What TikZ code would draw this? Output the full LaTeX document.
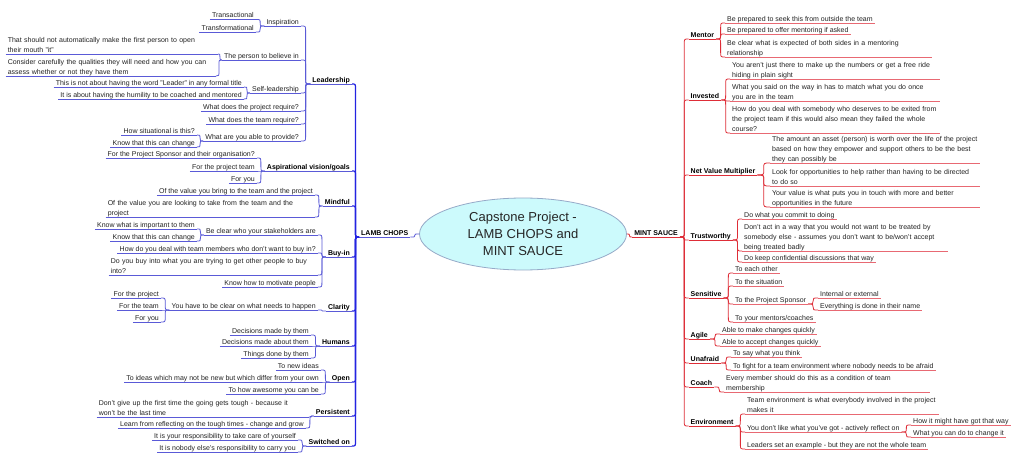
\documentclass[tikz,border=0pt]{standalone}
\usepackage{fontspec}
\setmainfont{Liberation Sans}
\usetikzlibrary{calc,shapes.geometric}
\definecolor{lcol}{RGB}{90,90,215}
\definecolor{ltrunk}{RGB}{35,35,225}
\definecolor{rcol}{RGB}{222,45,55}
\definecolor{rul}{RGB}{232,105,115}
\definecolor{txtc}{RGB}{35,35,35}
\definecolor{ellfill}{RGB}{204,250,252}
\definecolor{elldraw}{RGB}{150,170,200}
\newcommand\mystrut{\rule[-1.5pt]{0pt}{7.4pt}}
\tikzset{
  br/.style={to path={let \p1=(\tikztostart), \p2=(\tikztotarget),
      \p3=($(\tikztostart)!0.5!(\tikztotarget)$),
      \n2={(\y2>\y1?1:-1)*min(5,abs(\y2-\y1)/2)} in
      (\p1) .. controls (\x3,\y1) .. (\x3,\y1+\n2) -- (\x3,\y2-\n2) .. controls (\x3,\y2) .. (\p2)}},
  txt/.style={font=\fontsize{7}{10}\selectfont, text=txtc, inner xsep=2pt, inner ysep=0pt,
      execute at begin node=\mystrut, execute at end node=\mystrut},
  lnode/.style={txt, anchor=south east,
      append after command={(\tikzlastnode.south west) edge[lcol,line width=0.8pt] (\tikzlastnode.south east)}},
  lmain/.style={lnode, font=\fontsize{7}{10}\selectfont\bfseries, text=black},
  rnode/.style={txt, anchor=south west,
      append after command={(\tikzlastnode.south west) edge[rul,line width=0.8pt] (\tikzlastnode.south east)}},
  rmain/.style={txt, anchor=south west, font=\fontsize{7}{10}\selectfont\bfseries, text=black,
      append after command={(\tikzlastnode.south west) edge[rcol,line width=0.8pt] (\tikzlastnode.south east)}},
  lc/.style={lcol, line width=0.8pt},
  lt/.style={ltrunk, line width=1.2pt},
  rc/.style={rcol, line width=0.8pt},
  ml/.style={text width=#1, align=left},
}
\begin{document}
\begin{tikzpicture}[x=1pt,y=-1pt]
\fill[white] (0,0) rectangle (1024,470);
\useasboundingbox (0,0) rectangle (1024,470);

% centre
\node[ellipse, draw=elldraw, fill=ellfill, line width=0.8pt, minimum width=207pt, minimum height=72pt,
  inner sep=0pt, align=center, font=\fontsize{13}{17}\selectfont, text=black!85] (c) at (523,234)
  {Capstone Project -\\LAMB CHOPS and\\MINT SAUCE};
\node[lmain, anchor=south west] (lamb) at (359,237) {LAMB CHOPS};
\node[rmain, anchor=south east] (mint) at (680,237) {MINT SAUCE};

% ---------- left side ----------
\node[lmain] (lead) at (352,84) {Leadership};
\node[lnode] (insp) at (301,26) {Inspiration};
\node[lnode] (tact) at (256,19.5) {Transactional};
\node[lnode] (tform) at (256,32) {Transformational};
\node[lnode] (pbel) at (301,60) {The person to believe in};
\node[lnode, ml=208pt] (pb1) at (218,54) {That should not automatically make the first person to open\\their mouth "it"};
\node[lnode, ml=206pt] (pb2) at (216,76) {Consider carefully the qualities they will need and how you can\\assess whether or not they have them};
\node[lnode] (self) at (301,93) {Self-leadership};
\node[lnode] (sl1) at (244,87) {This is not about having the word "Leader" in any formal title};
\node[lnode] (sl2) at (244,99) {It is about having the humility to be coached and mentored};
\node[lnode] (wproj) at (301,111) {What does the project require?};
\node[lnode] (wteam) at (301,124) {What does the team require?};
\node[lnode] (wprov) at (301,141) {What are you able to provide?};
\node[lnode] (wp1) at (197,135) {How situational is this?};
\node[lnode] (wp2) at (197,147) {Know that this can change};

\node[lmain] (asp) at (352,171) {Aspirational vision/goals};
\node[lnode] (as1) at (257,158) {For the Project Sponsor and their organisation?};
\node[lnode] (as2) at (257,171) {For the project team};
\node[lnode] (as3) at (257,183) {For you};

\node[lmain] (mind) at (352,206) {Mindful};
\node[lnode] (mi1) at (315,195) {Of the value you bring to the team and the project};
\node[lnode, ml=205pt] (mi2) at (315,217) {Of the value you are looking to take from the team and the\\project};

\node[lmain] (buy) at (352,257) {Buy-in};
\node[lnode] (bc) at (318,235) {Be clear who your stakeholders are};
\node[lnode] (bc1) at (197,229) {Know what is important to them};
\node[lnode] (bc2) at (197,241) {Know that this can change};
\node[lnode] (bu2) at (318,253) {How do you deal with team members who don't want to buy in?};
\node[lnode, ml=205pt] (bu3) at (318,275) {Do you buy into what you are trying to get other people to buy\\into?};
\node[lnode] (bu4) at (318,287) {Know how to motivate people};

\node[lmain] (clar) at (352,311) {Clarity};
\node[lnode] (cl) at (318,310) {You have to be clear on what needs to happen};
\node[lnode] (cl1) at (161,298) {For the project};
\node[lnode] (cl2) at (161,310) {For the team};
\node[lnode] (cl3) at (161,322) {For you};

\node[lmain] (hum) at (352,346) {Humans};
\node[lnode] (hu1) at (311,335) {Decisions made by them};
\node[lnode] (hu2) at (311,346) {Decisions made about them};
\node[lnode] (hu3) at (311,358) {Things done by them};

\node[lmain] (open) at (352,382) {Open};
\node[lnode] (op1) at (321,370) {To new ideas};
\node[lnode] (op2) at (321,382) {To ideas which may not be new but which differ from your own};
\node[lnode] (op3) at (321,394) {To how awesome you can be};

\node[lmain] (pers) at (352,416) {Persistent};
\node[lnode, ml=208pt] (pe1) at (309,417) {Don't give up the first time the going gets tough - because it\\won't be the last time};
\node[lnode] (pe2) at (306,428) {Learn from reflecting on the tough times - change and grow};

\node[lmain] (sw) at (352,446) {Switched on};
\node[lnode] (sw1) at (298,440) {It is your responsibility to take care of yourself};
\node[lnode] (sw2) at (298,452) {It is nobody else's responsibility to carry you};

% ---------- right side ----------
\node[rmain] (ment) at (688.5,39) {Mentor};
\node[rnode] (me1) at (725,23) {Be prepared to seek this from outside the team};
\node[rnode] (me2) at (725,34) {Be prepared to offer mentoring if asked};
\node[rnode, ml=203pt] (me3) at (725,57) {Be clear what is expected of both sides in a mentoring\\relationship};

\node[rmain] (inv) at (688.5,100) {Invested};
\node[rnode, ml=206pt] (in1) at (730,79) {You aren't just there to make up the numbers or get a free ride\\hiding in plain sight};
\node[rnode, ml=206pt] (in2) at (730,101) {What you said on the way in has to match what you do once\\you are in the team};
\node[rnode, ml=206pt] (in3) at (730,133) {How do you deal with somebody who deserves to be exited from\\the project team if this would also mean they failed the whole\\course?};

\node[rmain] (nvm) at (688.5,175) {Net Value Multiplier};
\node[rnode, ml=206pt] (nv1) at (770,163) {The amount an asset (person) is worth over the life of the project\\based on how they empower and support others to be the best\\they can possibly be};
\node[rnode, ml=206pt] (nv2) at (770,186) {Look for opportunities to help rather than having to be directed\\to do so};
\node[rnode, ml=206pt] (nv3) at (770,207) {Your value is what puts you in touch with more and better\\opportunities in the future};

\node[rmain] (trus) at (688.5,240) {Trustworthy};
\node[rnode] (tr1) at (742,219) {Do what you commit to doing};
\node[rnode, ml=202pt] (tr2) at (742,251) {Don't act in a way that you would not want to be treated by\\somebody else - assumes you don't want to be/won't accept\\being treated badly};
\node[rnode] (tr3) at (742,262) {Do keep confidential discussions that way};

\node[rmain] (sens) at (688.5,298) {Sensitive};
\node[rnode] (se1) at (733,273) {To each other};
\node[rnode] (se2) at (733,286) {To the situation};
\node[rnode] (se3) at (733,304) {To the Project Sponsor};
\node[rnode] (se3a) at (818,298) {Internal or external};
\node[rnode] (se3b) at (818,310) {Everything is done in their name};
\node[rnode] (se4) at (733,322) {To your mentors/coaches};

\node[rmain] (agil) at (688.5,339) {Agile};
\node[rnode] (ag1) at (720,334) {Able to make changes quickly};
\node[rnode] (ag2) at (720,346) {Able to accept changes quickly};

\node[rmain] (unaf) at (688.5,363) {Unafraid};
\node[rnode] (un1) at (731,357) {To say what you think};
\node[rnode] (un2) at (731,370) {To fight for a team environment where nobody needs to be afraid};

\node[rmain] (coach) at (688.5,387) {Coach};
\node[rnode, ml=202pt] (co1) at (724,392) {Every member should do this as a condition of team\\membership};

\node[rmain] (env) at (688.5,426) {Environment};
\node[rnode, ml=190pt] (en1) at (745,414) {Team environment is what everybody involved in the project\\makes it};
\node[rnode] (en2) at (745,432) {You don't like what you've got - actively reflect on};
\node[rnode] (en2a) at (911,425) {How it might have got that way};
\node[rnode] (en2b) at (911,437) {What you can do to change it};
\node[rnode] (en3) at (745,449) {Leaders set an example - but they are not the whole team};

% ---------- connectors ----------
\draw[lc] (c.west) to[br] (lamb.south east);
\draw[rc] (c.east) to[br] (mint.south west);
\foreach \ch in {lead,asp,mind,buy,clar,hum,open,pers,sw}
  \draw[lt] (lamb.south west) to[br] (\ch.south east);
\foreach \pa/\ch in {lead/insp,lead/pbel,lead/self,lead/wproj,lead/wteam,lead/wprov,
    insp/tact,insp/tform,pbel/pb1,pbel/pb2,self/sl1,self/sl2,wprov/wp1,wprov/wp2,
    asp/as1,asp/as2,asp/as3,mind/mi1,mind/mi2,
    buy/bc,buy/bu2,buy/bu3,buy/bu4,bc/bc1,bc/bc2,
    clar/cl,cl/cl1,cl/cl2,cl/cl3,hum/hu1,hum/hu2,hum/hu3,
    open/op1,open/op2,open/op3,pers/pe1,pers/pe2,sw/sw1,sw/sw2}
  \draw[lc] (\pa.south west) to[br] (\ch.south east);
\foreach \ch in {ment,inv,nvm,trus,sens,agil,unaf,coach,env}
  \draw[rc] (mint.south east) to[br] (\ch.south west);
\foreach \pa/\ch in {ment/me1,ment/me2,ment/me3,inv/in1,inv/in2,inv/in3,
    nvm/nv1,nvm/nv2,nvm/nv3,trus/tr1,trus/tr2,trus/tr3,
    sens/se1,sens/se2,sens/se3,sens/se4,se3/se3a,se3/se3b,
    agil/ag1,agil/ag2,unaf/un1,unaf/un2,coach/co1,
    env/en1,env/en2,env/en3,en2/en2a,en2/en2b}
  \draw[rc] (\pa.south east) to[br] (\ch.south west);
\end{tikzpicture}
\end{document}
